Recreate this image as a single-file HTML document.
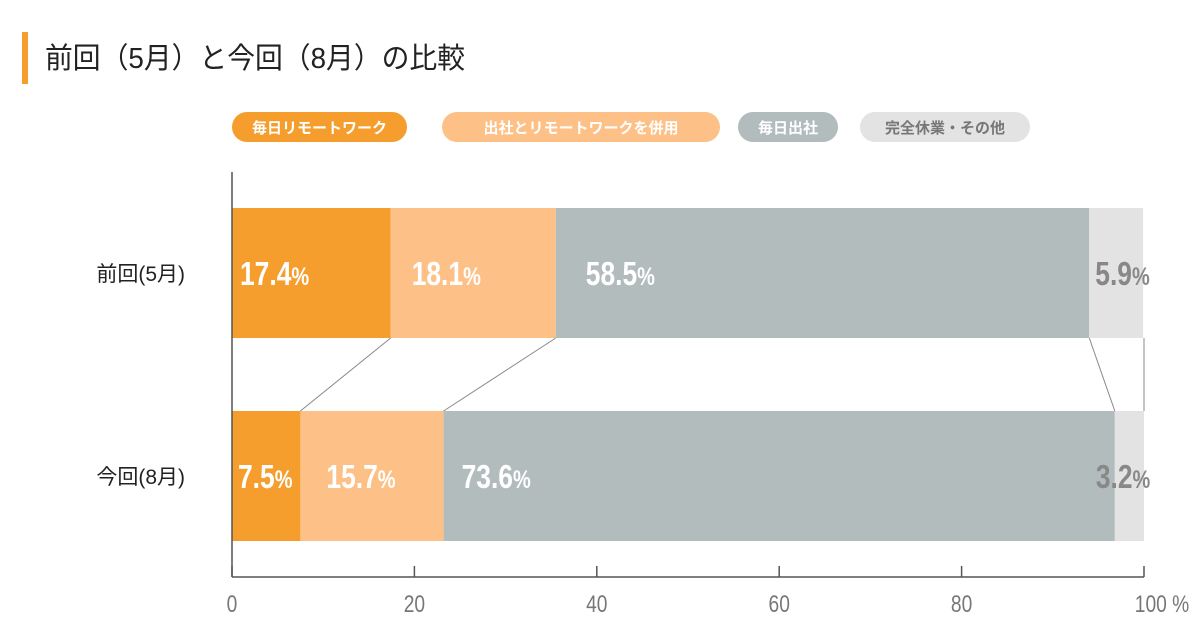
<!DOCTYPE html>
<html><head><meta charset="utf-8"><style>
body{margin:0;background:#fff;width:1200px;height:630px;overflow:hidden;font-family:"Liberation Sans","Noto Sans CJK JP",sans-serif}
</style></head><body>
<svg width="1200" height="630" xmlns="http://www.w3.org/2000/svg" id="chart">
<rect x="22" y="32" width="6" height="52" fill="#F59E2E"/>
<text x="45" y="68" font-size="29" fill="#222" textLength="420" lengthAdjust="spacingAndGlyphs" font-family="Liberation Sans,Noto Sans CJK JP,sans-serif">前回（5月）と今回（8月）の比較</text>
<g id="legend"></g>
<g id="plot"></g>
</svg>
<script>
const categories=["前回(5月)","今回(8月)"];
const seriesNames=["毎日リモートワーク","出社とリモートワークを併用","毎日出社","完全休業・その他"];
const seriesColors=["#F59E2E","#FDC188","#B2BCBD","#E3E3E3"];
const may=[17.4,18.1,58.5,5.9];
const aug=[7.5,15.7,73.6,3.2];
const ticks=[0,20,40,60,80,100];
const tickLabels=["0","20","40","60","80","100 %"];
const values=[may,aug];
const NS="http://www.w3.org/2000/svg";
const x0=232,x1=1144;
const xs=v=>x0+(x1-x0)*v/100;
const rowY=[208,411],bh=130;
const labelOffsets=[[8,21,30,6],[6,26,18,-19]];
function mk(t,a,p){const e=document.createElementNS(NS,t);for(const k in a)e.setAttribute(k,a[k]);p.appendChild(e);return e;}
const plot=document.getElementById('plot'),leg=document.getElementById('legend');
const legX=[232,442,738,860],legW=[175,278,100,170];
seriesNames.forEach((n,i)=>{
 const g=mk('g',{},leg);
 
 
 mk('rect',{x:legX[i],y:112,width:legW[i],height:30,rx:15,fill:seriesColors[i]},g);
 const t=mk('text',{x:legX[i]+legW[i]/2,y:133,'text-anchor':'middle','font-size':15,'font-weight':'bold',fill:i==3?'#777':'#fff'},g);
 t.textContent=n;
});
values.forEach((vals,r)=>{
 let c=0;
 const lab=mk('text',{x:185,y:rowY[r]+bh/2+8,'text-anchor':'end','font-size':21,fill:'#222'},plot);
 
 
 lab.textContent=categories[r];
 vals.forEach((v,i)=>{
  const rect=mk('rect',{x:xs(c),y:rowY[r],width:xs(c+v)-xs(c),height:bh,fill:seriesColors[i]},plot);
  
  
  const tx=xs(c)+labelOffsets[r][i];
  const t=mk('text',{x:0,y:0,transform:`translate(${tx},${rowY[r]+bh/2+12}) scale(0.8,1)`,'font-size':33,'font-weight':'bold',fill:i==3?'#888':'#fff'},plot);
  
  
  t.innerHTML=v.toFixed(1)+'<tspan font-size="25">%</tspan>';
  c+=v;
 });
});
let c1=0,c2=0;
for(let i=0;i<3;i++){c1+=may[i];c2+=aug[i];
 const l=mk('line',{x1:xs(c1),y1:rowY[0]+bh,x2:xs(c2),y2:rowY[1],stroke:'#888','stroke-width':1},plot);
 
 
}
mk('line',{x1:x1,y1:rowY[0]+bh,x2:x1,y2:rowY[1],stroke:'#888','stroke-width':1},plot);
mk('line',{x1:x0,y1:172,x2:x0,y2:577,stroke:'#555','stroke-width':1.5},plot);
mk('line',{x1:x0,y1:577,x2:x1,y2:577,stroke:'#555','stroke-width':1.5},plot);
ticks.forEach((t,i)=>{
 mk('line',{x1:xs(t),y1:566,x2:xs(t),y2:577,stroke:'#555','stroke-width':1.5},plot);
 const tx=mk('text',{x:0,y:0,transform:`translate(${xs(t)+(i==5?18:0)},612) scale(0.8,1)`,'text-anchor':'middle','font-size':24,fill:'#777'},plot);
 
 
 tx.textContent=tickLabels[i];
});
</script>
</body></html>
